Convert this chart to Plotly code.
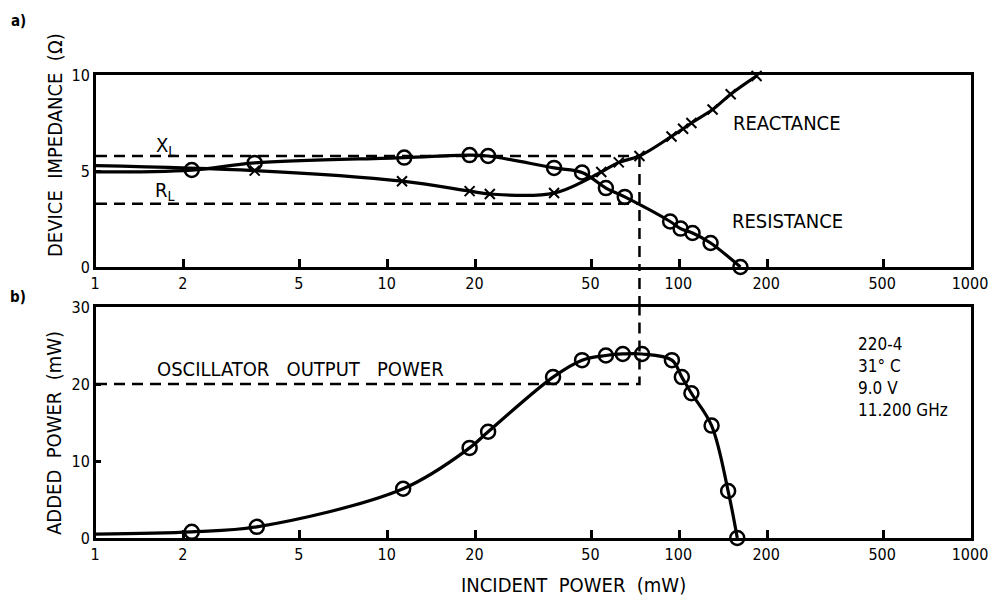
import plotly.graph_objects as go
from plotly.subplots import make_subplots

# ---------------- data ----------------
x_ticks = [1, 2, 5, 10, 20, 50, 100, 200, 500, 1000]
x_tick_labels = ["1", "2", "5", "10", "20", "50", "100", "200", "500", "1000"]
y_ticks_top = [0, 5, 10]
y_ticks_bottom = [0, 10, 20, 30]

# panel a) resistance (circles)
res_curve_x = [1, 2.13, 3.5, 11.4, 19.1, 22.1, 37.2, 46.4, 56, 65, 93, 101, 111, 128, 162]
res_curve_y = [4.95, 5.05, 5.42, 5.70, 5.83, 5.78, 5.16, 4.92, 4.11, 3.65, 2.37, 2.0, 1.77, 1.25, 0.0]
res_pts_x = [2.13, 3.5, 11.4, 19.1, 22.1, 37.2, 46.4, 56, 65, 93, 101, 111, 128, 162]
res_pts_y = [5.05, 5.42, 5.70, 5.83, 5.78, 5.16, 4.92, 4.11, 3.65, 2.37, 2.0, 1.77, 1.25, 0.0]

# panel a) reactance (crosses)
rea_curve_x = [1, 3.5, 11.2, 19.1, 22.4, 37.2, 54, 62, 73, 94, 103, 110, 130, 150, 184]
rea_curve_y = [5.28, 5.02, 4.47, 3.95, 3.80, 3.85, 4.95, 5.45, 5.78, 6.80, 7.20, 7.50, 8.20, 9.00, 9.95]
rea_pts_x = [3.5, 11.2, 19.1, 22.4, 37.2, 54, 62, 73, 94, 103, 110, 130, 150, 184]
rea_pts_y = [5.02, 4.47, 3.95, 3.80, 3.85, 4.95, 5.45, 5.78, 6.80, 7.20, 7.50, 8.20, 9.00, 9.95]

# panel b) added power
pow_curve_x = [1, 2.13, 3.56, 11.3, 19.1, 22.1, 36.9, 46.4, 56, 64, 74.5, 94.3, 102, 110, 129, 147, 158]
pow_curve_y = [0.5, 0.8, 1.45, 6.4, 11.7, 13.8, 20.9, 23.1, 23.7, 23.9, 23.9, 23.1, 20.9, 18.8, 14.6, 6.1, 0.0]
pow_pts_x = [2.13, 3.56, 11.3, 19.1, 22.1, 36.9, 46.4, 56, 64, 74.5, 94.3, 102, 110, 129, 147, 158]
pow_pts_y = [0.8, 1.45, 6.4, 11.7, 13.8, 20.9, 23.1, 23.7, 23.9, 23.9, 23.1, 20.9, 18.8, 14.6, 6.1, 0.0]

# load-point construction lines
XL_level = 5.78
RL_level = 3.3
P_opt = 73
P_osc = 20

# ---------------- figure ----------------
FONT = "DejaVu Sans Condensed, DejaVu Sans, sans-serif"
W, H = 990, 601
L, T = 96, 75
R = W - 971
B = H - 538
PW, PH = W - L - R, H - T - B
top_dom = [(538 - 267) / PH, 1.0]
bot_dom = [0.0, (538 - 307) / PH]


def px(xpix):  # reference-image pixel -> paper fraction
    return (xpix - L) / PW


def py(ypix):
    return (H - B - ypix) / PH


fig = make_subplots(rows=2, cols=1)

line_style = dict(color="black", width=3.2, shape="spline")
dash_style = dict(color="black", width=2.5, dash="11px,7px")
circle = dict(symbol="circle-open", size=14, color="black", line=dict(width=2.5, color="black"))
cross = dict(symbol="x-thin-open", size=10, color="black", line=dict(width=2, color="black"))

# top: dashed constructions
fig.add_trace(go.Scatter(x=[1, P_opt], y=[XL_level, XL_level], mode="lines", line=dash_style), row=1, col=1)
fig.add_trace(go.Scatter(x=[1, P_opt], y=[RL_level, RL_level], mode="lines", line=dash_style), row=1, col=1)
fig.add_trace(go.Scatter(x=[P_opt, P_opt], y=[XL_level, 0], mode="lines", line=dash_style), row=1, col=1)
# top: curves
fig.add_trace(go.Scatter(x=res_curve_x, y=res_curve_y, mode="lines", line=line_style), row=1, col=1)
fig.add_trace(go.Scatter(x=rea_curve_x, y=rea_curve_y, mode="lines", line=line_style), row=1, col=1)
fig.add_trace(go.Scatter(x=res_pts_x, y=res_pts_y, mode="markers", marker=circle, cliponaxis=False), row=1, col=1)
fig.add_trace(go.Scatter(x=rea_pts_x, y=rea_pts_y, mode="markers", marker=cross, cliponaxis=False), row=1, col=1)

# bottom: dashed
fig.add_trace(go.Scatter(x=[1, P_opt, P_opt], y=[P_osc, P_osc, 30], mode="lines", line=dash_style), row=2, col=1)
fig.add_trace(go.Scatter(x=pow_curve_x, y=pow_curve_y, mode="lines", line=line_style), row=2, col=1)
fig.add_trace(go.Scatter(x=pow_pts_x, y=pow_pts_y, mode="markers", marker=circle, cliponaxis=False), row=2, col=1)

# dashed link across the gap between panels
fig.add_shape(type="line", xref="x", yref="paper", x0=P_opt, x1=P_opt,
              y0=bot_dom[1], y1=top_dom[0], line=dash_style)

xaxis_common = dict(type="log", range=[0, 3], tickvals=x_ticks, ticktext=x_tick_labels,
                    showline=True, mirror=True, linecolor="black", linewidth=3,
                    ticks="inside", ticklen=8, tickwidth=2.5, tickcolor="black",
                    showgrid=False, zeroline=False, ticklabelshift=-1,
                    tickfont=dict(family=FONT, size=16, color="black"))
yaxis_common = dict(showline=True, mirror=True, linecolor="black", linewidth=3,
                    ticks="inside", ticklen=5, tickwidth=2.5, tickcolor="black",
                    showgrid=False, zeroline=False,
                    tickfont=dict(family=FONT, size=16, color="black"))

fig.update_layout(
    width=W, height=H, showlegend=False,
    paper_bgcolor="white", plot_bgcolor="white",
    margin=dict(l=L, r=R, t=T, b=B, autoexpand=False),
    font=dict(family=FONT, size=16, color="black"),
    xaxis=dict(xaxis_common, domain=[0, 1], anchor="y"),
    xaxis2=dict(xaxis_common, domain=[0, 1], anchor="y2"),
    yaxis=dict(yaxis_common, domain=top_dom, range=[0, 10], tickvals=y_ticks_top, anchor="x"),
    yaxis2=dict(yaxis_common, domain=bot_dom, range=[0, 30], tickvals=y_ticks_bottom, anchor="x2"),
)

ann = []


def txt(text, xpix, ypix, size=16, angle=0, xanchor="center", align="center"):
    ann.append(dict(text=text, x=px(xpix), y=py(ypix), xref="paper", yref="paper",
                    showarrow=False, textangle=angle, xanchor=xanchor, yanchor="middle",
                    align=align, font=dict(family=FONT, size=size, color="black")))


txt("<b>a)</b>", 18, 21, size=15)
txt("<b>b)</b>", 18, 297, size=15)
txt("DEVICE  IMPEDANCE  (Ω)", 55, 145, size=20, angle=-90)
txt("ADDED  POWER  (mW)", 54, 433, size=20, angle=-90)
txt("INCIDENT  POWER  (mW)", 573, 585, size=20)
txt("X<sub>L</sub>", 165, 146, size=20)
txt("R<sub>L</sub>", 165, 191, size=20)
txt("REACTANCE", 787, 123, size=20)
txt("RESISTANCE", 787, 221, size=20)
txt("OSCILLATOR   OUTPUT   POWER", 300, 369, size=20)
txt("220-4<br>31° C<br>9.0 V<br>11.200 GHz", 856, 377, size=17, xanchor="left", align="left")

fig.update_layout(annotations=ann)
fig.write_html("out.html",
               config={"displayModeBar": False},
               post_script="document.body.style.margin='0';document.body.style.overflow='hidden';")
